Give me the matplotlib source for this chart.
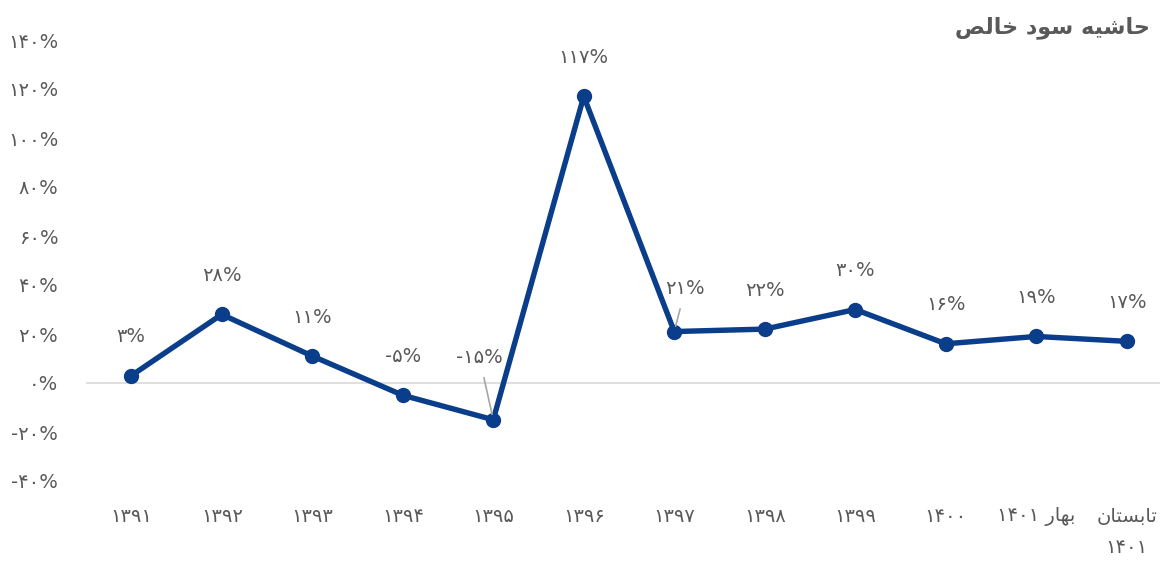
import re
import matplotlib
matplotlib.use('Agg')
import matplotlib.pyplot as plt

# Data
years = ['۱۳۹۱', '۱۳۹۲', '۱۳۹۳', '۱۳۹۴', '۱۳۹۵', '۱۳۹۶',
         '۱۳۹۷', '۱۳۹۸', '۱۳۹۹', '۱۴۰۰', 'بهار ۱۴۰۱', 'تابستان\n۱۴۰۱']
margin = [3, 28, 11, -5, -15, 117, 21, 22, 30, 16, 19, 17]
yticks = [-40, -20, 0, 20, 40, 60, 80, 100, 120, 140]
title = 'حاشیه سود خالص'

# minimal arabic shaping (matplotlib has no shaping / bidi)
FORMS = {
    'ا': (0xFE8D, 0xFE8E), 'د': (0xFEA9, 0xFEAA), 'ر': (0xFEAD, 0xFEAE),
    'و': (0xFEED, 0xFEEE),
    'ب': (0xFE8F, 0xFE90, 0xFE91, 0xFE92), 'ت': (0xFE95, 0xFE96, 0xFE97, 0xFE98),
    'ح': (0xFEA1, 0xFEA2, 0xFEA3, 0xFEA4), 'خ': (0xFEA5, 0xFEA6, 0xFEA7, 0xFEA8),
    'س': (0xFEB1, 0xFEB2, 0xFEB3, 0xFEB4), 'ش': (0xFEB5, 0xFEB6, 0xFEB7, 0xFEB8),
    'ص': (0xFEB9, 0xFEBA, 0xFEBB, 0xFEBC), 'ل': (0xFEDD, 0xFEDE, 0xFEDF, 0xFEE0),
    'ن': (0xFEE5, 0xFEE6, 0xFEE7, 0xFEE8), 'ه': (0xFEE9, 0xFEEA, 0xFEEB, 0xFEEC),
    'ی': (0xFBFC, 0xFBFD, 0xFBFE, 0xFBFF),
}

def shape_line(s):
    out = []
    for i, c in enumerate(s):
        if c not in FORMS:
            out.append(c)
            continue
        f = FORMS[c]
        prev = s[i-1] if i > 0 else ''
        nxt = s[i+1] if i < len(s)-1 else ''
        jp = prev in FORMS and len(FORMS[prev]) == 4
        jn = len(f) == 4 and nxt in FORMS
        if jp and jn:
            out.append(chr(f[3]))
        elif jp:
            out.append(chr(f[1]))
        elif jn:
            out.append(chr(f[2]))
        else:
            out.append(chr(f[0]))
    vis = ''.join(out)[::-1]
    return re.sub(r'[۰-۹]+', lambda m: m.group(0)[::-1], vis)

def rtl(s):
    return '\n'.join(shape_line(l) for l in s.split('\n'))

def fa_pct(v):
    digits = str(abs(v)).translate(str.maketrans('0123456789', '۰۱۲۳۴۵۶۷۸۹'))
    return ('-' if v < 0 else '') + digits + '%'

plt.rcParams['font.family'] = ['DejaVu Sans']
grey = '#595959'
blue = '#0a3d8a'

fig = plt.figure(figsize=(11.6, 5.63), dpi=100)
ax = fig.add_axes([86/1160, 82/563, 1086/1160, 441/563])

x = list(range(len(years)))
ax.plot(x, margin, color=blue, lw=3.9, marker='o', ms=10, zorder=3,
        solid_joinstyle='round')
ax.axhline(0, color='#d9d9d9', lw=1.2, zorder=1)

ax.set_xlim(-0.5, len(years) - 0.5)
ax.set_ylim(-40, 140)
ax.set_yticks(yticks)
ax.set_yticklabels([fa_pct(v) for v in yticks])
ax.set_xticks(x)
ax.set_xticklabels([rtl(y) for y in years], linespacing=1.75, va='top')
ax.tick_params(axis='y', length=0, pad=20, labelsize=14, labelcolor=grey)
ax.tick_params(axis='x', length=0, pad=19, labelsize=14, labelcolor=grey)
for s in ax.spines.values():
    s.set_visible(False)

# data labels
offsets = {4: (-10, 45), 6: (8, 31)}
for i, v in enumerate(margin):
    if i in offsets:
        ax.annotate(fa_pct(v), (i, v), xytext=offsets[i], textcoords='offset points',
                    ha='center', va='center', fontsize=14, color=grey,
                    arrowprops=dict(arrowstyle='-', color='#a6a6a6', lw=1.2,
                                    shrinkA=6, shrinkB=4))
    else:
        ax.annotate(fa_pct(v), (i, v), xytext=(0, 28), textcoords='offset points',
                    ha='center', va='center', fontsize=14, color=grey)

fig.text(1150/1160, 1 - 28/563, rtl(title), ha='right', va='center',
         fontsize=16, fontweight='bold', color=grey)

fig.savefig('out.png', dpi=100)
